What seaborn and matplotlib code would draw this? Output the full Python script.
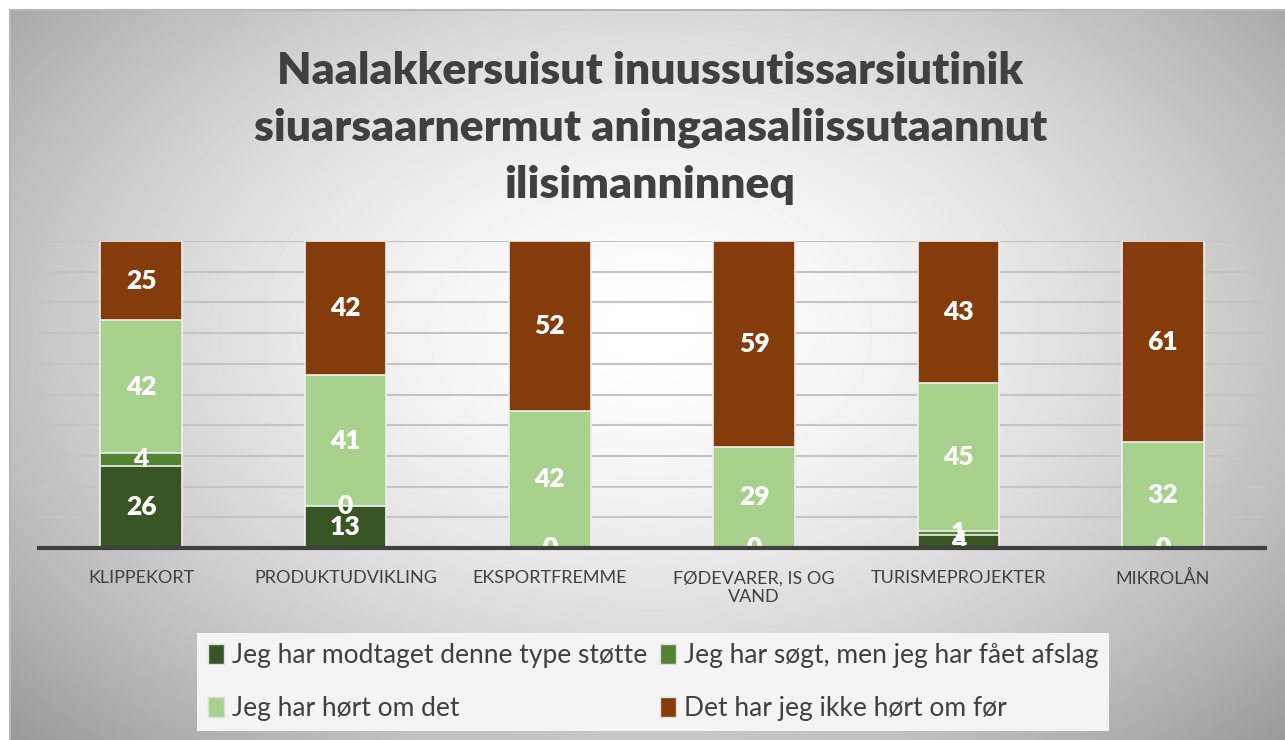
import numpy as np
import pandas as pd
import seaborn as sns
import matplotlib.pyplot as plt
from matplotlib.patches import Patch

# data
categories = ["KLIPPEKORT", "PRODUKTUDVIKLING", "EKSPORTFREMME",
              "FØDEVARER, IS OG\nVAND", "TURISMEPROJEKTER", "MIKROLÅN"]
series_names = ["Jeg har modtaget denne type støtte",
                "Jeg har søgt, men jeg har fået afslag",
                "Jeg har hørt om det",
                "Det har jeg ikke hørt om før"]
received = [26, 13, 0, 0, 4, 0]
rejected = [4, 0, 0, 0, 1, 0]
heard = [42, 41, 42, 29, 45, 32]
not_heard = [25, 42, 52, 59, 43, 61]
colors = ["#375623", "#548235", "#a9d18e", "#843c0c"]
title = ("Naalakkersuisut inuussutissarsiutinik\n"
         "siuarsaarnermut aningaasaliissutaannut\n"
         "ilisimanninneq")

sns.set_theme(style="white")
plt.rcParams['font.family'] = ['Lato', 'DejaVu Sans']
txt_col = "#404040"

df = pd.DataFrame({"kategori": categories,
                   series_names[0]: received,
                   series_names[1]: rejected,
                   series_names[2]: heard,
                   series_names[3]: not_heard})
vals = df[series_names]
shares = vals.div(vals.sum(axis=1), axis=0) * 100   # 100% stacked
cum = shares.cumsum(axis=1)
for s in series_names:
    df["cum_" + s] = cum[s]

fig = plt.figure(figsize=(12.85, 7.4), dpi=100)

# radial grey background like the office chart area
bg = fig.add_axes([0, 0, 1, 1], zorder=-5)
H, W = 740, 1285
yy, xx = np.mgrid[0:H, 0:W]
r = np.sqrt(((xx - 650) / 650.0) ** 2 + ((yy - 330) / 430.0) ** 2)
g = 255 - 62 * np.clip(r, 0, 1.6) ** 1.6
g[(xx < 10) | (yy < 10)] = 255
bg.imshow(g, cmap="gray", vmin=0, vmax=255, extent=[0, 1, 0, 1], aspect="auto")
bg.plot([10 / W, 1], [1 - 10 / H] * 2, color="#b8b8b8", lw=1.5)
bg.plot([10 / W] * 2, [0, 1 - 10 / H], color="#b8b8b8", lw=1.5)
bg.set_xlim(0, 1); bg.set_ylim(0, 1)
bg.axis("off")

ax = fig.add_axes([39 / W, 1 - 548 / H, (1265 - 39) / W, (548 - 241) / H])
ax.patch.set_alpha(0)

# stacked bars: draw cumulative totals from the top series down
for s, c in reversed(list(zip(series_names, colors))):
    sns.barplot(data=df, x="kategori", y="cum_" + s, color=c, width=0.4,
                saturation=1, edgecolor="#eeeeee", linewidth=1.2, ax=ax, zorder=3)

prev = np.zeros(len(categories))
for s in series_names:
    for j in range(len(categories)):
        yc = prev[j] + shares[s].iloc[j] / 2
        ax.text(j, yc, str(vals[s].iloc[j]), ha="center", va="center",
                color="white", fontsize=19, fontweight="heavy", zorder=5,
                clip_on=True)
    prev = prev + shares[s].values

ax.set_ylim(0, 100)
ax.set_yticks(np.arange(0, 101, 10))
ax.set_yticklabels([])
ax.yaxis.grid(True, color="#c4c4c4", lw=1.5)
ax.set_axisbelow(True)
ax.set_xlabel("")
ax.set_ylabel("")
ax.tick_params(axis="both", length=0)
ax.tick_params(axis="x", pad=16, labelsize=13, labelcolor=txt_col)
for sp in ["top", "left", "right"]:
    ax.spines[sp].set_visible(False)
ax.spines["bottom"].set_color("#404040")
ax.spines["bottom"].set_linewidth(3)
ax.spines["bottom"].set_zorder(6)

fig.text(0.506, 1 - 128 / H, title, ha="center", va="center", fontsize=32,
         fontweight="heavy", color=txt_col, linespacing=1.52)

handles = [Patch(facecolor=c, edgecolor="#dddddd") for c in colors]
order = [0, 2, 1, 3]
leg = fig.legend([handles[i] for i in order], [series_names[i] for i in order],
                 ncol=2, loc="center", bbox_to_anchor=(653 / W, 1 - 682 / H),
                 fontsize=19, frameon=True, facecolor="#f4f4f4", edgecolor="none",
                 fancybox=False, framealpha=1, handlelength=0.6, handleheight=0.8,
                 handletextpad=0.3, columnspacing=0.5, labelspacing=1.05,
                 borderpad=0.4)
for t in leg.get_texts():
    t.set_color(txt_col)

fig.savefig("out.png", dpi=100)
